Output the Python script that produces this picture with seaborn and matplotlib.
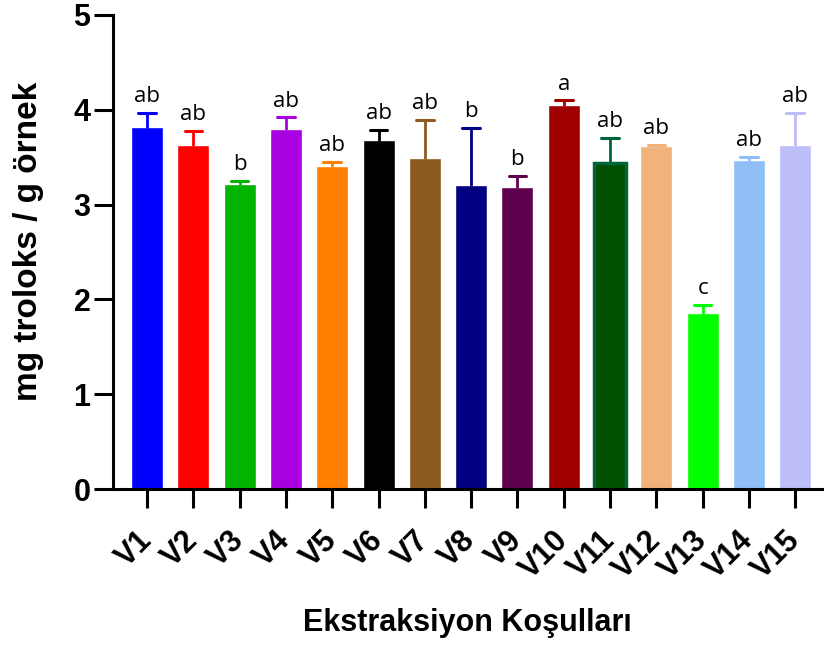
import numpy as np
import pandas as pd
import matplotlib
matplotlib.use("Agg")
import matplotlib.pyplot as plt
import seaborn as sns

conditions = ["V1", "V2", "V3", "V4", "V5", "V6", "V7", "V8", "V9", "V10",
              "V11", "V12", "V13", "V14", "V15"]
means = [3.82, 3.63, 3.22, 3.80, 3.41, 3.68, 3.49, 3.21, 3.18, 4.05,
         3.44, 3.62, 1.86, 3.47, 3.63]
errors = [0.15, 0.15, 0.03, 0.12, 0.04, 0.11, 0.40, 0.60, 0.12, 0.05,
          0.26, 0.01, 0.08, 0.03, 0.34]
letters = ["ab", "ab", "b", "ab", "ab", "ab", "ab", "b", "b", "a",
           "ab", "ab", "c", "ab", "ab"]
colors = ["#0000ff", "#ff0000", "#00b400", "#a800e0", "#ff7f00", "#000000",
          "#8c5a1e", "#000080", "#5e004e", "#a00000", "#00663a", "#f0b47a",
          "#00ff00", "#8fbff5", "#bdbdfa"]

df = pd.DataFrame({"cond": conditions, "val": means, "err": errors})

sns.set_style("ticks")
plt.rcParams["font.family"] = ["Liberation Sans", "DejaVu Sans"]
plt.rcParams["text.color"] = "black"
plt.rcParams["axes.labelcolor"] = "black"
plt.rcParams["xtick.color"] = "black"
plt.rcParams["ytick.color"] = "black"

fig = plt.figure(figsize=(8.27, 6.46), dpi=100)
ax = fig.add_axes([0.137, 0.243, 0.857, 0.734])

sns.barplot(data=df, x="cond", y="val", hue="cond", palette=colors,
            legend=False, width=0.69, saturation=1, ax=ax, errorbar=None)

# V11 bar has a darker fill inside a lighter border in the original
v11 = ax.patches[10]
v11.set_facecolor("#005000")
v11.set_edgecolor("#00663a")
v11.set_linewidth(2.5)

# upper error bars only, with a cap
cap = 0.19
for i, row in df.iterrows():
    top = row["val"] + row["err"]
    ax.plot([i, i], [row["val"], top], color=colors[i], lw=2, zorder=3)
    ax.plot([i - cap, i + cap], [top, top], color=colors[i], lw=2.2, zorder=3)
    ax.text(i, top + 0.06, letters[i], ha="center", va="bottom",
            fontsize=16, color="black", family=["Open Sans", "DejaVu Sans"])

ax.set_ylim(0, 5)
ax.set_xlim(-0.73, 14.58)
ax.set_yticks([0, 1, 2, 3, 4, 5])
ax.set_ylabel("mg troloks / g örnek", fontsize=24, fontweight="bold")
ax.yaxis.set_label_coords(-0.098, 0.523)
ax.set_xlabel("Ekstraksiyon Koşulları", fontsize=22, fontweight="bold", labelpad=17)

for s in ["top", "right"]:
    ax.spines[s].set_visible(False)
for s in ["left", "bottom"]:
    ax.spines[s].set_linewidth(2.2)
    ax.spines[s].set_color("black")

ax.tick_params(axis="both", width=2.2, length=13.5)
ax.tick_params(axis="y", labelsize=22, pad=3)
ax.tick_params(axis="x", labelsize=22, pad=20)
for lab in ax.get_yticklabels():
    lab.set_fontweight("bold")
for lab in ax.get_xticklabels():
    lab.set_fontweight("bold")
    lab.set_rotation(45)
    lab.set_ha("right")
    lab.set_va("center")
    lab.set_rotation_mode("anchor")

fig.savefig("out.png", dpi=100)
